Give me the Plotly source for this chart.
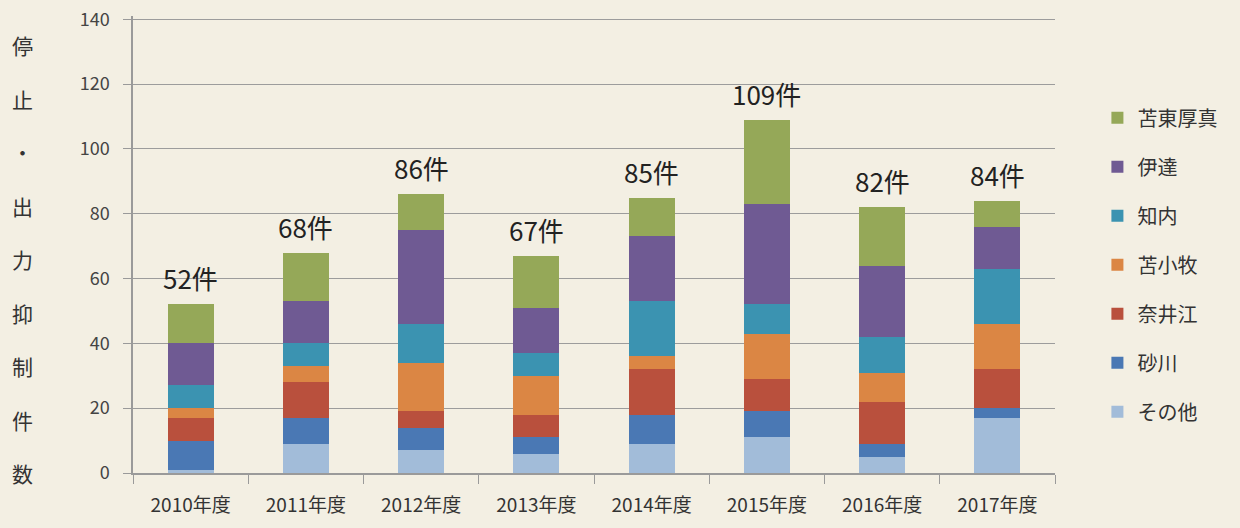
import plotly.graph_objects as go

years = ["2010年度", "2011年度", "2012年度", "2013年度", "2014年度", "2015年度", "2016年度", "2017年度"]

# stack order bottom -> top
sonota   = [1, 9, 7, 6, 9, 11, 5, 17]    # その他
sunagawa = [9, 8, 7, 5, 9, 8, 4, 3]      # 砂川
naie     = [7, 11, 5, 7, 14, 10, 13, 12] # 奈井江
tomakomai = [3, 5, 15, 12, 4, 14, 9, 14] # 苫小牧
shiriuchi = [7, 7, 12, 7, 17, 9, 11, 17] # 知内
date     = [13, 13, 29, 14, 20, 31, 22, 13]  # 伊達
tomatou  = [12, 15, 11, 16, 12, 26, 18, 8]   # 苫東厚真

series = [
    ("その他", sonota, "#a2bcd9"),
    ("砂川", sunagawa, "#4a78b4"),
    ("奈井江", naie, "#b9503d"),
    ("苫小牧", tomakomai, "#db8644"),
    ("知内", shiriuchi, "#3b93b1"),
    ("伊達", date, "#6f5a93"),
    ("苫東厚真", tomatou, "#95a858"),
]

y_title_chars = ["停", "止", "・", "出", "力", "抑", "制", "件", "数"]

FONT = "Noto Sans CJK JP"
BG = "#f3efe3"

fig = go.Figure()
for i, (name, vals, col) in enumerate(series):
    fig.add_trace(go.Bar(
        x=years, y=vals, name=name, marker=dict(color=col, line=dict(width=0)),
        legendgroup=f"g{i}", legendrank=1000 - i,
    ))

totals = [sum(v) for v in zip(*[s[1] for s in series])]
for yr, t in zip(years, totals):
    fig.add_annotation(x=yr, y=t, text=f"{t}件", showarrow=False, yanchor="bottom",
                       yshift=6, font=dict(family=FONT, size=26, color="#222"))

n = len(y_title_chars)
for k, ch in enumerate(y_title_chars):
    yv = 132 - k * (132 / (n - 1))
    fig.add_annotation(x=-0.12, xref="paper", y=yv, yref="y", text=ch, showarrow=False,
                       xanchor="center", font=dict(family=FONT, size=21, color="#333"))

fig.update_layout(
    width=1240, height=528,
    margin=dict(l=133, r=185, t=16, b=55, autoexpand=False),
    paper_bgcolor=BG, plot_bgcolor=BG,
    barmode="stack", bargap=0.6,
    font=dict(family=FONT, color="#333"),
    showlegend=True,
    legend=dict(traceorder="grouped", x=1.046, xanchor="left", y=0.82, yanchor="top",
                font=dict(family=FONT, size=20, color="#333"), tracegroupgap=20,
                bgcolor="rgba(0,0,0,0)", itemwidth=30),
    xaxis=dict(showline=True, linecolor="#9a9a9a", linewidth=1.5, ticks="outside",
               tickson="boundaries", ticklen=9, tickcolor="#9a9a9a",
               tickfont=dict(family=FONT, size=19, color="#333"), showgrid=False,
               ticklabelstandoff=14, automargin=False),
    yaxis=dict(range=[0, 141], tickvals=[0, 20, 40, 60, 80, 100, 120, 140],
               showline=True, linecolor="#9a9a9a", linewidth=1.5,
               ticks="outside", ticklen=8, tickcolor="#9a9a9a",
               showgrid=True, gridcolor="#9c9c9c", gridwidth=1.2, zeroline=False,
               tickfont=dict(family=FONT, size=18, color="#444"), ticklabelstandoff=10,
               ticklabeloverflow="allow", automargin=False),
)

fig.write_html(
    "out.html",
    config={"displayModeBar": False},
    post_script=f"document.body.style.margin='0';document.body.style.background='{BG}';",
)
